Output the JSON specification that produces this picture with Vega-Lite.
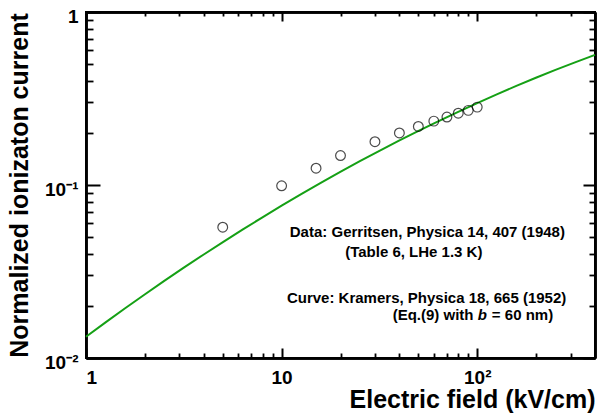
{
  "$schema": "https://vega.github.io/schema/vega-lite/v6.json",
  "width": 509,
  "height": 346,
  "autosize": {"type": "none"},
  "padding": {"left": 86, "top": 12, "right": 2, "bottom": 55},
  "background": "white",
  "config": {
    "view": {"stroke": "black", "strokeWidth": 2},
    "axis": {
      "grid": false,
      "domainColor": "black",
      "domainWidth": 2.5,
      "tickColor": "black",
      "tickWidth": 2,
      "labelFont": "Liberation Sans",
      "labelFontWeight": "bold",
      "labelColor": "black",
      "titleFont": "Liberation Sans",
      "titleFontWeight": "bold",
      "titleColor": "black"
    }
  },
  "datasets": {
    "curve": [
      {"E": 1, "I": 0.01327},
      {"E": 1.259, "I": 0.01607},
      {"E": 1.585, "I": 0.0194},
      {"E": 1.995, "I": 0.02329},
      {"E": 2.512, "I": 0.02789},
      {"E": 3.162, "I": 0.03327},
      {"E": 3.981, "I": 0.03954},
      {"E": 5.012, "I": 0.04679},
      {"E": 6.31, "I": 0.05518},
      {"E": 7.943, "I": 0.06483},
      {"E": 10, "I": 0.07589},
      {"E": 12.59, "I": 0.08849},
      {"E": 15.85, "I": 0.1028},
      {"E": 19.95, "I": 0.119},
      {"E": 25.12, "I": 0.1372},
      {"E": 31.62, "I": 0.1576},
      {"E": 39.81, "I": 0.1803},
      {"E": 50.12, "I": 0.2055},
      {"E": 63.1, "I": 0.2334},
      {"E": 79.43, "I": 0.2641},
      {"E": 100, "I": 0.2977},
      {"E": 125.9, "I": 0.3344},
      {"E": 158.5, "I": 0.374},
      {"E": 199.5, "I": 0.4169},
      {"E": 251.2, "I": 0.4628},
      {"E": 316.2, "I": 0.5119},
      {"E": 400, "I": 0.5651}
    ],
    "points": [
      {"E": 5, "I": 0.057},
      {"E": 10, "I": 0.099},
      {"E": 15, "I": 0.125},
      {"E": 20, "I": 0.148},
      {"E": 30, "I": 0.178},
      {"E": 40, "I": 0.2},
      {"E": 50, "I": 0.218},
      {"E": 60, "I": 0.234},
      {"E": 70, "I": 0.247},
      {"E": 80, "I": 0.26},
      {"E": 90, "I": 0.27},
      {"E": 100, "I": 0.282}
    ],
    "notes": [
      {"E": 55.6, "I": 0.0537, "text": "Data: Gerritsen, Physica 14, 407 (1948)", "part": "c"},
      {"E": 47.4, "I": 0.04115, "text": "(Table 6, LHe 1.3 K)", "part": "c"},
      {"E": 55.1, "I": 0.02222, "text": "Curve: Kramers, Physica 18, 665 (1952)", "part": "c"},
      {"E": 95.7, "I": 0.01773, "text": "(Eq.(9) with", "part": "r"},
      {"E": 106.2, "I": 0.01773, "text": "b", "part": "b"},
      {"E": 118.8, "I": 0.01773, "text": "= 60 nm)", "part": "l"}
    ]
  },
  "layer": [
    {
      "data": {"name": "curve"},
      "mark": {"type": "line", "color": "#15a015", "strokeWidth": 2},
      "encoding": {
        "x": {
          "field": "E", "type": "quantitative",
          "scale": {"type": "log", "domain": [1, 400], "nice": false},
          "axis": {
            "orient": "bottom",
            "values": [1, 10, 100],
            "labelExpr": "datum.value==1?'1':datum.value==10?'10':'10²'",
            "labelFontSize": 19,
            "labelPadding": 20,
            "labelOverlap": false,
            "tickSize": -10,
            "title": "Electric field (kV/cm)",
            "titleFontSize": 25,
            "titleAnchor": "end",
            "titlePadding": 0
          }
        },
        "y": {
          "field": "I", "type": "quantitative",
          "scale": {"type": "log", "domain": [0.01, 1], "nice": false},
          "axis": {
            "orient": "left",
            "values": [0.01, 0.1, 1],
            "labelExpr": "datum.value==1?'1':datum.value==0.1?'10⁻¹':'10⁻²'",
            "labelFontSize": 19,
            "labelPadding": 22,
            "labelOverlap": false,
            "labelFlush": false,
            "labelOffset": 4,
            "tickSize": -14,
            "title": "Normalized ionizaton current",
            "titleFontSize": 25,
            "titlePadding": 12
          }
        }
      }
    },
    {
      "data": {"name": "points"},
      "mark": {"type": "point", "shape": "circle", "filled": false, "stroke": "black", "strokeWidth": 1.2, "size": 95},
      "encoding": {
        "x": {
          "field": "E", "type": "quantitative",
          "axis": {"orient": "top", "values": [1, 10, 100], "labels": false, "tickSize": -9, "title": null}
        },
        "y": {
          "field": "I", "type": "quantitative",
          "axis": {"orient": "right", "values": [0.01, 0.1, 1], "labels": false, "tickSize": -12, "title": null}
        }
      }
    },
    {
      "data": {"name": "notes"},
      "transform": [{"filter": "datum.part=='c'"}],
      "mark": {"type": "text", "align": "center", "baseline": "middle", "font": "Liberation Sans", "fontWeight": "bold", "fontSize": 15, "color": "black"},
      "encoding": {
        "x": {
          "field": "E", "type": "quantitative",
          "axis": {"orient": "bottom", "values": [2,3,4,5,6,7,8,9,20,30,40,50,60,70,80,90,200,300], "labels": false, "tickSize": -5, "tickWidth": 1.8, "title": null}
        },
        "y": {
          "field": "I", "type": "quantitative",
          "axis": {"orient": "left", "values": [0.02,0.03,0.04,0.05,0.06,0.07,0.08,0.09,0.2,0.3,0.4,0.5,0.6,0.7,0.8,0.9], "labels": false, "tickSize": -7, "tickWidth": 1.8, "title": null}
        },
        "text": {"field": "text"}
      }
    },
    {
      "data": {"name": "notes"},
      "transform": [{"filter": "datum.part=='r'"}],
      "mark": {"type": "text", "align": "right", "baseline": "middle", "font": "Liberation Sans", "fontWeight": "bold", "fontSize": 15, "color": "black"},
      "encoding": {
        "x": {
          "field": "E", "type": "quantitative",
          "axis": {"orient": "top", "values": [2,3,4,5,6,7,8,9,20,30,40,50,60,70,80,90,200,300], "labels": false, "tickSize": -4, "tickWidth": 1.8, "title": null}
        },
        "y": {
          "field": "I", "type": "quantitative",
          "axis": {"orient": "right", "values": [0.02,0.03,0.04,0.05,0.06,0.07,0.08,0.09,0.2,0.3,0.4,0.5,0.6,0.7,0.8,0.9], "labels": false, "tickSize": -6, "tickWidth": 1.8, "title": null}
        },
        "text": {"field": "text"}
      }
    },
    {
      "data": {"name": "notes"},
      "transform": [{"filter": "datum.part=='b'"}],
      "mark": {"type": "text", "align": "center", "baseline": "middle", "font": "Liberation Sans", "fontWeight": "bold", "fontStyle": "italic", "fontSize": 15, "color": "black"},
      "encoding": {
        "x": {"field": "E", "type": "quantitative", "axis": null},
        "y": {"field": "I", "type": "quantitative", "axis": null},
        "text": {"field": "text"}
      }
    },
    {
      "data": {"name": "notes"},
      "transform": [{"filter": "datum.part=='l'"}],
      "mark": {"type": "text", "align": "left", "baseline": "middle", "font": "Liberation Sans", "fontWeight": "bold", "fontSize": 15, "color": "black"},
      "encoding": {
        "x": {"field": "E", "type": "quantitative", "axis": null},
        "y": {"field": "I", "type": "quantitative", "axis": null},
        "text": {"field": "text"}
      }
    }
  ],
  "resolve": {"axis": {"x": "independent", "y": "independent"}}
}
